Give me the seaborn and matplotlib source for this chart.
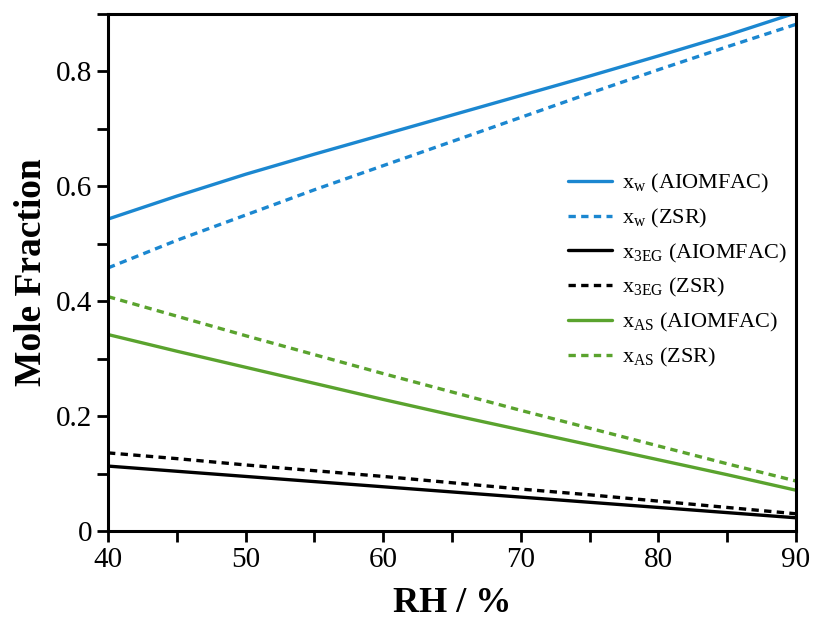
import matplotlib
matplotlib.use("Agg")
import matplotlib.pyplot as plt
import seaborn as sns
import numpy as np
import pandas as pd
from matplotlib.ticker import MultipleLocator

rh = [40, 45, 50, 55, 60, 65, 70, 75, 80, 85, 90]
xw_aiomfac = [0.543, 0.583, 0.621, 0.656, 0.690, 0.724, 0.758, 0.792, 0.827, 0.863, 0.902]
xw_zsr = [0.458, 0.506, 0.550, 0.594, 0.636, 0.678, 0.720, 0.762, 0.803, 0.843, 0.882]
x3eg_aiomfac = [0.113, 0.104, 0.095, 0.086, 0.077, 0.068, 0.059, 0.050, 0.041, 0.032, 0.023]
x3eg_zsr = [0.136, 0.126, 0.115, 0.105, 0.095, 0.084, 0.073, 0.063, 0.052, 0.041, 0.030]
xas_aiomfac = [0.342, 0.313, 0.285, 0.257, 0.229, 0.202, 0.176, 0.150, 0.124, 0.098, 0.071]
xas_zsr = [0.408, 0.374, 0.340, 0.307, 0.274, 0.242, 0.210, 0.179, 0.148, 0.117, 0.087]

labels = [r"x$_{\mathrm{w}}$ (AIOMFAC)", r"x$_{\mathrm{w}}$ (ZSR)",
          r"x$_{\mathrm{3EG}}$ (AIOMFAC)", r"x$_{\mathrm{3EG}}$ (ZSR)",
          r"x$_{\mathrm{AS}}$ (AIOMFAC)", r"x$_{\mathrm{AS}}$ (ZSR)"]
series = [xw_aiomfac, xw_zsr, x3eg_aiomfac, x3eg_zsr, xas_aiomfac, xas_zsr]

blue = "#1b87d0"
green = "#5aa32e"
colors = [blue, blue, "black", "black", green, green]
styles = ["-", (0, (2.2, 1.6)), "-", (0, (2.2, 1.6)), "-", (0, (2.2, 1.6))]

sns.set_style("ticks")
plt.rcParams["font.family"] = ["Liberation Serif", "DejaVu Serif"]
plt.rcParams["mathtext.fontset"] = "custom"
plt.rcParams["mathtext.rm"] = "Liberation Serif"
plt.rcParams["text.color"] = "black"
plt.rcParams["axes.labelcolor"] = "black"

fig = plt.figure(figsize=(8.14, 6.22), dpi=100)
ax = fig.add_axes([108/814, 1-531/622, (796-108)/814, (531-14)/622])

for lab, vals, c, ls in zip(labels, series, colors, styles):
    df = pd.DataFrame({"RH": rh, "x": vals})
    sns.lineplot(data=df, x="RH", y="x", ax=ax, color=c, linestyle=ls,
                 linewidth=2.4, label=lab)

ax.set_xlim(40, 90)
ax.set_ylim(0, 0.9)
ax.xaxis.set_major_locator(MultipleLocator(10))
ax.xaxis.set_minor_locator(MultipleLocator(5))
ax.yaxis.set_major_locator(MultipleLocator(0.2))
ax.yaxis.set_minor_locator(MultipleLocator(0.1))
ax.yaxis.set_major_formatter(matplotlib.ticker.FuncFormatter(lambda v, p: "0" if abs(v) < 1e-9 else f"{v:.1f}"))
ax.tick_params(which="both", direction="out", width=2, length=8, labelsize=21, colors="black")
ax.tick_params(which="minor", length=8)
for s in ax.spines.values():
    s.set_linewidth(2.2)
    s.set_color("black")

ax.set_xlabel("RH / %", fontsize=26, fontweight="bold", labelpad=10, color="black")
ax.set_ylabel("Mole Fraction", fontsize=27, fontweight="bold", labelpad=5, color="black")

leg = ax.legend(loc="upper left", bbox_to_anchor=((568-108)/688, (531-172)/517),
                frameon=False, borderpad=0, borderaxespad=0,
                fontsize=16, handlelength=2.0, labelspacing=0.53, handletextpad=0.45)
for t in leg.get_texts():
    t.set_color("black")

fig.savefig("out.png", dpi=100)
